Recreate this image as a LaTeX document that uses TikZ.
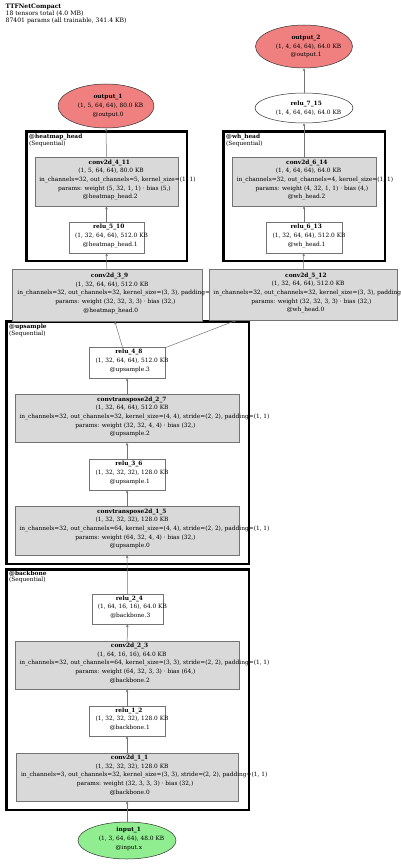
\documentclass[tikz,border=0pt]{standalone}
\usepackage{fontspec}
\setmainfont{DejaVu Serif}
\usetikzlibrary{shapes.geometric,arrows.meta}
\definecolor{lcoral}{RGB}{240,128,128}
\definecolor{lgreen}{RGB}{144,238,144}
\definecolor{boxgray}{RGB}{217,217,217}
\newcommand\nf{\fontsize{5.85}{8.6}\selectfont}
\newcommand\gl[1]{\setbox0=\hbox{#1}\makebox[0pt][l]{\kern-0.43\wd0\copy0}}
\newcommand\gb[1]{\gl{\bfseries #1}}
\newcommand\dn{\rule[-4.5pt]{0pt}{4.5pt}}
\tikzset{
  gbox/.style={draw=black!55, fill=boxgray, line width=0.5pt, rectangle, inner sep=0pt, align=center, font=\nf},
  wbox/.style={gbox, fill=white},
  oell/.style={ellipse, draw=black!80, line width=0.5pt, inner sep=0pt, align=center, font=\nf},
  clus/.style={draw=black, line width=2.5pt},
  clab/.style={anchor=north west, inner sep=0pt, align=left, font=\fontsize{5.85}{6.7}\selectfont},
  conn/.style={draw=black!55, line width=0.5pt, -{Stealth[length=3pt,width=2.6pt]}}
}
\begin{document}
\begin{tikzpicture}[x=1pt,y=-1pt]
\useasboundingbox (0,0) rectangle (400,864);
\fill[white] (0,0) rectangle (400,864);
% header
\node[anchor=north west, inner sep=0pt, align=left, font=\fontsize{6.1}{7}\selectfont] (hdr) at (5.5,3.5)
  {\textbf{TTFNetCompact}\\18 tensors total (4.0 MB)\\87401 params (all trainable, 341.4 KB)};
% clusters
\draw[clus] (26.25,131.25) rectangle (186.75,260.75);
\node[clab] (lheat) at (29,133.8) {\textbf{@heatmap\_head}\\(Sequential)};
\draw[clus] (223.25,131.25) rectangle (384.75,260.75);
\node[clab] (lwh) at (226,133.8) {\textbf{@wh\_head}\\(Sequential)};
\draw[clus] (6.25,321.25) rectangle (248.75,563.75);
\node[clab] (lup) at (9,323.8) {\textbf{@upsample}\\(Sequential)};
\draw[clus] (6.25,569.25) rectangle (248.75,809.75);
\node[clab] (lbb) at (9,570.5) {\textbf{@backbone}\\(Sequential)};
% output nodes
\node[oell, fill=lcoral, minimum width=97pt, minimum height=43pt] (out2) at (304,46.5)
  {\gb{output\_2}\\\gl{(1, 4, 64, 64), 64.0 KB}\\\gl{@output.1}};
\node[oell, fill=white, minimum width=98pt, minimum height=30pt] (r715) at (304,108)
  {\gb{relu\_7\_15}\\\gl{(1, 4, 64, 64), 64.0 KB}};
\node[oell, fill=lcoral, minimum width=96pt, minimum height=44pt] (out1) at (106,106)
  {\gb{output\_1}\\\gl{(1, 5, 64, 64), 80.0 KB}\\\gl{@output.0}};
% heatmap head
\node[gbox, minimum width=143pt, minimum height=49pt] (c411) at (106.5,181.5)
  {\gb{conv2d\_4\_11}\\\gl{(1, 5, 64, 64), 80.0 KB}\\\gl{in\_channels=32, out\_channels=5, kernel\_size=(1, 1)}\\\gl{params: weight (5, 32, 1, 1) · bias (5,)}\\\gl{@heatmap\_head.2}\dn};
\node[wbox, minimum width=75pt, minimum height=31pt] (r510) at (106.5,237.5)
  {\gb{relu\_5\_10}\\\gl{(1, 32, 64, 64), 512.0 KB}\\\gl{@heatmap\_head.1}\dn};
% wh head
\node[gbox, minimum width=144pt, minimum height=49pt] (c614) at (304,181.5)
  {\gb{conv2d\_6\_14}\\\gl{(1, 4, 64, 64), 64.0 KB}\\\gl{in\_channels=32, out\_channels=4, kernel\_size=(1, 1)}\\\gl{params: weight (4, 32, 1, 1) · bias (4,)}\\\gl{@wh\_head.2}\dn};
\node[wbox, minimum width=76pt, minimum height=31pt] (r613) at (304,237.5)
  {\gb{relu\_6\_13}\\\gl{(1, 32, 64, 64), 512.0 KB}\\\gl{@wh\_head.1}\dn};
% head first convs
\node[gbox, minimum width=190pt, minimum height=52pt] (c39) at (107,295)
  {\gb{conv2d\_3\_9}\\\gl{(1, 32, 64, 64), 512.0 KB}\\\gl{in\_channels=32, out\_channels=32, kernel\_size=(3, 3), padding=(1, 1)}\\\gl{params: weight (32, 32, 3, 3) · bias (32,)}\\\gl{@heatmap\_head.0}\dn};
\node[gbox, minimum width=188pt, minimum height=51pt] (c512) at (303,294.5)
  {\gb{conv2d\_5\_12}\\\gl{(1, 32, 64, 64), 512.0 KB}\\\gl{in\_channels=32, out\_channels=32, kernel\_size=(3, 3), padding=(1, 1)}\\\gl{params: weight (32, 32, 3, 3) · bias (32,)}\\\gl{@wh\_head.0}\dn};
% upsample
\node[wbox, minimum width=76pt, minimum height=31pt] (r48) at (127,362.5)
  {\gb{relu\_4\_8}\\\gl{(1, 32, 64, 64), 512.0 KB}\\\gl{@upsample.3}\dn};
\node[gbox, minimum width=224pt, minimum height=48pt] (ct27) at (127,418.5)
  {\gb{convtranspose2d\_2\_7}\\\gl{(1, 32, 64, 64), 512.0 KB}\\\gl{in\_channels=32, out\_channels=32, kernel\_size=(4, 4), stride=(2, 2), padding=(1, 1)}\\\gl{params: weight (32, 32, 4, 4) · bias (32,)}\\\gl{@upsample.2}\dn};
\node[wbox, minimum width=76pt, minimum height=31pt] (r36) at (127,474.5)
  {\gb{relu\_3\_6}\\\gl{(1, 32, 32, 32), 128.0 KB}\\\gl{@upsample.1}\dn};
\node[gbox, minimum width=224pt, minimum height=49pt] (ct15) at (127,530.5)
  {\gb{convtranspose2d\_1\_5}\\\gl{(1, 32, 32, 32), 128.0 KB}\\\gl{in\_channels=32, out\_channels=64, kernel\_size=(4, 4), stride=(2, 2), padding=(1, 1)}\\\gl{params: weight (64, 32, 4, 4) · bias (32,)}\\\gl{@upsample.0}\dn};
% backbone
\node[wbox, minimum width=71pt, minimum height=30pt] (r24) at (127.5,609)
  {\gb{relu\_2\_4}\\\gl{(1, 64, 16, 16), 64.0 KB}\\\gl{@backbone.3}\dn};
\node[gbox, minimum width=224pt, minimum height=48pt] (c23) at (127,665)
  {\gb{conv2d\_2\_3}\\\gl{(1, 64, 16, 16), 64.0 KB}\\\gl{in\_channels=32, out\_channels=64, kernel\_size=(3, 3), stride=(2, 2), padding=(1, 1)}\\\gl{params: weight (64, 32, 3, 3) · bias (64,)}\\\gl{@backbone.2}\dn};
\node[wbox, minimum width=76pt, minimum height=30pt] (r12) at (127,721)
  {\gb{relu\_1\_2}\\\gl{(1, 32, 32, 32), 128.0 KB}\\\gl{@backbone.1}\dn};
\node[gbox, minimum width=222pt, minimum height=48pt] (c11) at (127,777)
  {\gb{conv2d\_1\_1}\\\gl{(1, 32, 32, 32), 128.0 KB}\\\gl{in\_channels=3, out\_channels=32, kernel\_size=(3, 3), stride=(2, 2), padding=(1, 1)}\\\gl{params: weight (32, 3, 3, 3) · bias (32,)}\\\gl{@backbone.0}\dn};
\node[oell, fill=lgreen, minimum width=98pt, minimum height=37pt] (in1) at (127,840.5)
  {\gb{input\_1}\\\gl{(1, 3, 64, 64), 48.0 KB}\\\gl{@input.x}\dn};
% connectors
\draw[conn] (in1) -- (c11);
\draw[conn] (c11) -- (r12);
\draw[conn] (r12) -- (c23);
\draw[conn] (c23) -- (r24);
\draw[conn] (r24) -- (ct15);
\draw[conn] (ct15) -- (r36);
\draw[conn] (r36) -- (ct27);
\draw[conn] (ct27) -- (r48);
\draw[conn] (r48) -- (c39);
\draw[conn] (r48) -- (c512);
\draw[conn] (c39) -- (r510);
\draw[conn] (r510) -- (c411);
\draw[conn] (c411) -- (out1);
\draw[conn] (c512) -- (r613);
\draw[conn] (r613) -- (c614);
\draw[conn] (c614) -- (r715);
\draw[conn] (r715) -- (out2);
\end{tikzpicture}
\end{document}
